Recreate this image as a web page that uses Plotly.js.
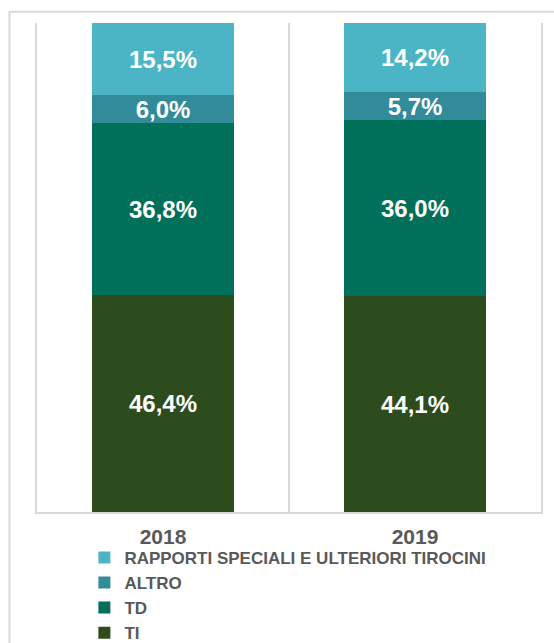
<!DOCTYPE html>
<html>
<head>
<meta charset="utf-8">
<script src="https://cdn.plot.ly/plotly-3.0.1.min.js"></script>
<style>
html,body{margin:0;padding:0;background:#fff;}
#chart{width:554px;height:643px;}
</style>
</head>
<body>
<div id="chart"></div>
<script>
const years = ['2018', '2019'];
const seriesNames = ['TI', 'TD', 'ALTRO', 'RAPPORTI SPECIALI E ULTERIORI TIROCINI'];
const tiValues = [46.4, 44.1];
const tdValues = [36.8, 36.0];
const altroValues = [6.0, 5.7];
const rsValues = [15.5, 14.2];
const colors = ['#2D4C1E', '#00705A', '#328B99', '#4BB5C5'];

const allValues = [tiValues, tdValues, altroValues, rsValues];
const fmt = v => v.toFixed(1).replace('.', ',') + '%';

const traces = allValues.map((vals, i) => ({
  type: 'bar',
  name: seriesNames[i],
  x: years,
  y: vals,
  text: vals.map(fmt),
  textposition: 'inside',
  insidetextanchor: 'middle',
  textangle: 0,
  textfont: {family: 'Liberation Sans, Arial, sans-serif', size: 24, color: '#ffffff', weight: 'bold'},
  marker: {color: colors[i], line: {width: 0}},
  width: 0.56,
  hoverinfo: 'skip'
}));

const layout = {
  width: 554,
  height: 643,
  margin: {l: 37, r: 13, t: 23, b: 131, autoexpand: false},
  paper_bgcolor: '#ffffff',
  plot_bgcolor: '#ffffff',
  barmode: 'stack',
  barnorm: 'percent',
  bargap: 0.44,
  showlegend: true,
  uniformtext: {mode: 'show', minsize: 24},
  font: {family: 'Liberation Sans, Arial, sans-serif'},
  xaxis: {
    type: 'category',
    tickson: 'boundaries',
    showgrid: true,
    gridcolor: '#D9D9D9',
    gridwidth: 2,
    showline: true,
    linecolor: '#D9D9D9',
    linewidth: 2,
    ticks: '',
    ticklabelstandoff: 5,
    tickfont: {family: 'Liberation Sans, Arial, sans-serif', size: 21, color: '#595959', weight: 'bold'},
    fixedrange: true
  },
  yaxis: {
    range: [0, 100],
    showgrid: false,
    zeroline: false,
    showticklabels: false,
    showline: true,
    mirror: true,
    linecolor: '#D9D9D9',
    linewidth: 2,
    ticks: '',
    fixedrange: true
  },
  legend: {
    traceorder: 'reversed',
    orientation: 'v',
    x: 0.094,
    xanchor: 'left',
    y: -0.057,
    yanchor: 'top',
    itemwidth: 30,
    tracegroupgap: 0,
    font: {family: 'Liberation Sans, Arial, sans-serif', size: 17, color: '#595959', weight: 'bold'},
    bgcolor: 'rgba(0,0,0,0)'
  },
  shapes: [{
    type: 'rect',
    xref: 'paper', yref: 'paper',
    x0: -0.0546, x1: 1.2,
    y0: -0.4, y1: 1.0231,
    line: {color: '#D9D9D9', width: 2},
    fillcolor: 'rgba(0,0,0,0)',
    layer: 'below'
  }]
};

Plotly.newPlot('chart', traces, layout, {displayModeBar: false, staticPlot: true});
</script>
</body>
</html>
